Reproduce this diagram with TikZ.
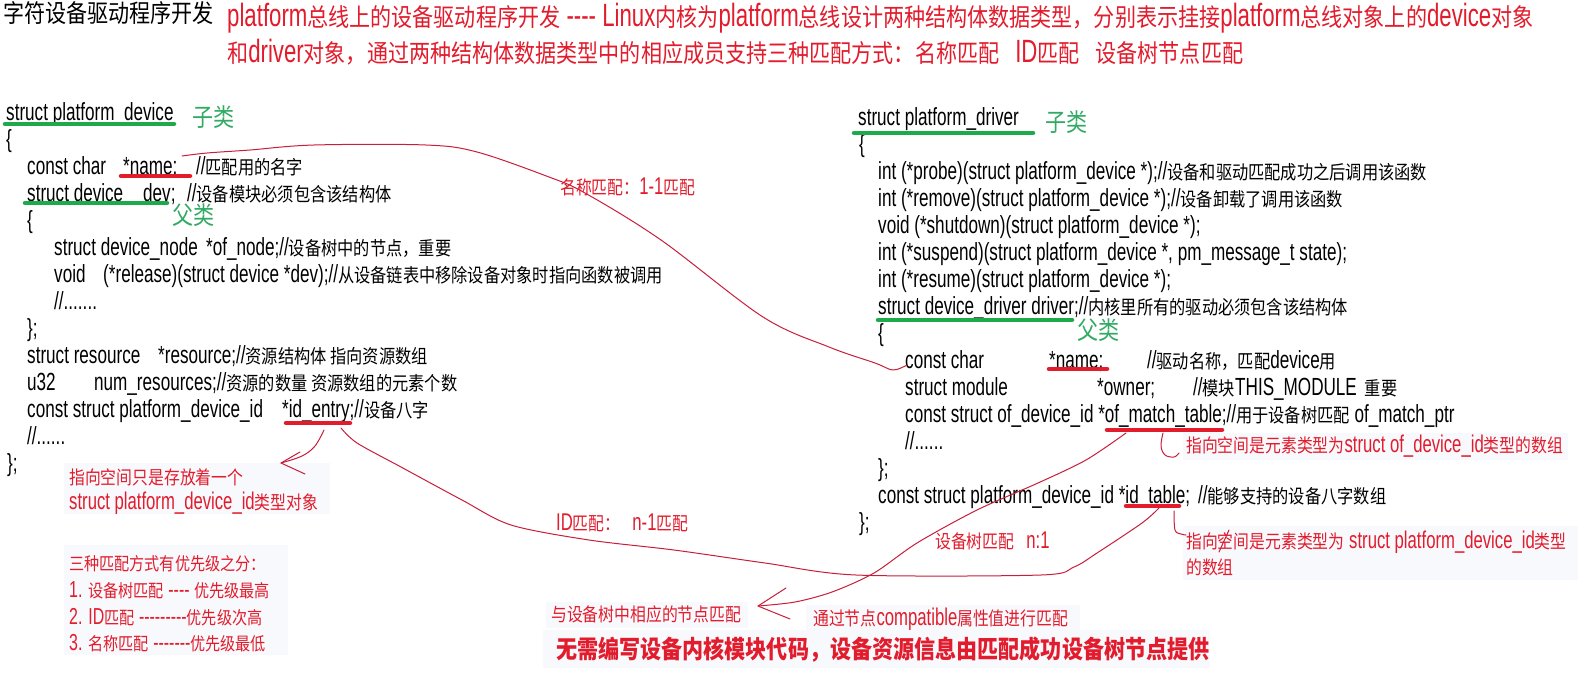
\documentclass[tikz,border=0pt]{standalone}
\usepackage{fontspec}
\newfontfamily\latf{Liberation Sans}[FakeStretch=0.69]
\newfontfamily\cjkf{Noto Sans CJK SC}[Scale=0.77,FakeStretch=0.85]
\newcommand\zz[1]{{\cjkf #1}}
\definecolor{myred}{RGB}{226,28,44}
\definecolor{curvered}{RGB}{200,30,60}
\definecolor{ulgreen}{RGB}{30,170,75}
\definecolor{txtgreen}{RGB}{50,170,100}
\definecolor{faint}{RGB}{248,249,252}
\begin{document}
\begin{tikzpicture}[x=1pt,y=-1pt,
  code/.style={anchor=base west, inner sep=0pt, font=\latf\fontsize{24.8}{28}\selectfont, text=black},
  head/.style={anchor=base west, inner sep=0pt, font=\latf\fontsize{32.2}{36}\selectfont},
  ann/.style={anchor=base west, inner sep=0pt, font=\latf\fontsize{24.2}{28}\selectfont, text=myred},
  prio/.style={anchor=base west, inner sep=0pt, font=\latf\fontsize{23.1}{27}\selectfont, text=myred},
  glab/.style={anchor=base west, inner sep=0pt, font=\cjkf\fontsize{32.2}{36}\selectfont, text=txtgreen},
  gul/.style={draw=ulgreen, line width=4.5pt, line cap=round},
  rul/.style={draw=myred, line width=4.5pt, line cap=round},
  conn/.style={draw=curvered, line width=1pt, line cap=round, line join=round},
  bg/.style={fill=faint, draw=none}]
\fill[white] (0,0) rectangle (1589,696);
\useasboundingbox (0,0) rectangle (1589,696);

% faint highlight boxes
\path[bg] (64,463) rectangle (330,514);
\path[bg] (64,545) rectangle (288,655);
\path[bg] (1183,433) rectangle (1568,460);
\path[bg] (1183,526) rectangle (1578,580);
\path[bg] (546,602) rectangle (748,628);
\path[bg] (806,605) rectangle (1080,632);
\path[bg] (543,630) rectangle (1210,668);

% header
\node[head, text=black] (title) at (3,22) {\zz{字符设备驱动程序开发}};
\node[head, text=myred] (h1) at (227,27) {platform\zz{总线上的设备驱动程序开发} ---- Linux\zz{内核为}platform\zz{总线设计两种结构体数据类型，分别表示挂接}platform\zz{总线对象上的}device\zz{对象}};
\node[head, text=myred] (h2) at (227,62) {\zz{和}driver\zz{对象，通过两种结构体数据类型中的相应成员支持三种匹配方式：名称匹配}\hspace{16pt}ID\zz{匹配}\hspace{16pt}\zz{设备树节点匹配}};

% left block
\node[code] (a1) at (6,120) {struct platform\_device};
\node[glab] (a1g) at (192,126) {子类};
\node[code] (a2) at (6,147) {\{};
\node[code] (a3) at (27,174) {const char};
\node[code] (a3n) at (123,174) {*name;};
\node[code] (a3c) at (196,174) {//\zz{匹配用的名字}};
\node[code] (a4) at (27,201) {struct device};
\node[code] (a4d) at (143,201) {dev;};
\node[code] (a4c) at (187,201) {//\zz{设备模块必须包含该结构体}};
\node[glab] (a4g) at (172,224) {父类};
\node[code] (a5) at (27,228) {\{};
\node[code] (a6) at (54,255) {struct device\_node};
\node[code] (a6b) at (206,255) {*of\_node;//\zz{设备树中的节点，重要}};
\node[code] (a7) at (54,282) {void};
\node[code] (a7b) at (103,282) {(*release)(struct device *dev);//\zz{从设备链表中移除设备对象时指向函数被调用}};
\node[code] (a8) at (54,309) {//.......};
\node[code] (a9) at (27,336) {\};};
\node[code] (a10) at (27,363) {struct resource};
\node[code] (a10b) at (158,363) {*resource;//\zz{资源结构体 指向资源数组}};
\node[code] (a11) at (27,390) {u32};
\node[code] (a11b) at (94,390) {num\_resources;//\zz{资源的数量 资源数组的元素个数}};
\node[code] (a12) at (27,417) {const struct platform\_device\_id};
\node[code] (a12b) at (282,417) {*id\_entry;//\zz{设备八字}};
\node[code] (a13) at (27,444) {//......};
\node[code] (a14) at (7,471) {\};};

% right block
\node[code] (b1) at (858,125) {struct platform\_driver};
\node[glab] (b1g) at (1045,131) {子类};
\node[code] (b2) at (859,152) {\{};
\node[code] (b3) at (878,179) {int (*probe)(struct platform\_device *);//\zz{设备和驱动匹配成功之后调用该函数}};
\node[code] (b4) at (878,206) {int (*remove)(struct platform\_device *);//\zz{设备卸载了调用该函数}};
\node[code] (b5) at (878,233) {void (*shutdown)(struct platform\_device *);};
\node[code] (b6) at (878,260) {int (*suspend)(struct platform\_device *, pm\_message\_t state);};
\node[code] (b7) at (878,287) {int (*resume)(struct platform\_device *);};
\node[code] (b8) at (878,314) {struct device\_driver driver;//\zz{内核里所有的驱动必须包含该结构体}};
\node[glab] (b8g) at (1077,339) {父类};
\node[code] (b9) at (878,341) {\{};
\node[code] (b10) at (905,368) {const char};
\node[code] (b10n) at (1049,368) {*name;};
\node[code] (b10c) at (1147,368) {//\zz{驱动名称，匹配}device\zz{用}};
\node[code] (b11) at (905,395) {struct module};
\node[code] (b11o) at (1097,395) {*owner;};
\node[code] (b11c) at (1193,395) {//\zz{模块}THIS\_MODULE\hspace{8pt}\zz{重要}};
\node[code] (b12) at (905,422) {const struct of\_device\_id *of\_match\_table;//\zz{用于设备树匹配} of\_match\_ptr};
\node[code] (b13) at (905,449) {//......};
\node[code] (b14) at (878,476) {\};};
\node[code] (b15) at (878,503) {const struct platform\_device\_id *id\_table;\hspace{8pt}//\zz{能够支持的设备八字数组}};
\node[code] (b16) at (859,530) {\};};

% underlines
\draw[gul] (5,124) -- (174,124);
\draw[gul] (25,203) -- (167,203);
\draw[gul] (854,133) -- (1033,133);
\draw[gul] (878,320) -- (1072,320);
\draw[rul] (121,176) -- (190,176);
\draw[rul] (286,423) -- (350,423);
\draw[rul] (1049,369) -- (1107,369);
\draw[rul] (1107,430) -- (1222,430);
\draw[rul] (1126,506) -- (1179,506);

% annotations
\node[ann] (n1) at (69,484) {\zz{指向空间只是存放着一个}};
\node[ann] (n2) at (69,509) {struct platform\_device\_id\zz{类型对象}};
\node[ann] (nameLab) at (560,194) {\zz{名称匹配：}1-1\zz{匹配}};
\node[ann] (idLab) at (556,530) {ID\zz{匹配：}\hspace{12pt}n-1\zz{匹配}};
\node[ann] (treeLab) at (935,548) {\zz{设备树匹配}\hspace{12pt}n:1};
\node[ann] (n6) at (1186,452) {\zz{指向空间是元素类型为}struct of\_device\_id\zz{类型的数组}};
\node[ann] (n7) at (1186,548) {\zz{指向空间是元素类型为} struct platform\_device\_id\zz{类型}};
\node[ann] (n8) at (1186,574) {\zz{的数组}};
\node[prio] (p0) at (69,570) {\zz{三种匹配方式有优先级之分：}};
\node[prio] (p1) at (69,597) {1. \zz{设备树匹配} ---- \zz{优先级最高}};
\node[prio] (p2) at (69,624) {2. ID\zz{匹配} ---------\zz{优先级次高}};
\node[prio] (p3) at (69,650) {3. \zz{名称匹配} -------\zz{优先级最低}};
\node[ann] (m1) at (551,621) {\zz{与设备树中相应的节点匹配}};
\node[ann] (m2) at (813,625) {\zz{通过节点}compatible\zz{属性值进行匹配}};
\node[head, text=myred] (bold) at (556,658) {{\cjkf\bfseries 无需编写设备内核模块代码，设备资源信息由匹配成功设备树节点提供}};

% connector end points
\coordinate (nmS) at (182,156);
\coordinate (nmE) at (907,365);
\coordinate (idS) at (341,428);
\coordinate (idE) at (1159,508);
\coordinate (trS) at (1126,433);
\coordinate (trT) at (758,606);
\coordinate (ieS) at (324,430);
\coordinate (ieT) at (281,463);
\coordinate (sq1) at (1163,433);
\coordinate (sq2) at (1174,511);

% name match curve
\draw[conn] plot[smooth, tension=0.55] coordinates {(nmS) (207,153) (250,150) (314,145) (426,145) (477,152) (549,177) (585,193) (661,240) (763,317) (829,347) (875,363) (893,370) (nmE)};
% ID match curve
\draw[conn] plot[smooth, tension=0.5] coordinates {(idS) (357,443) (401,467) (462,500) (511,525) (589,540) (674,550) (765,563) (856,575) (1041,575) (1074,567) (1097,553) (1142,523) (idE)};
% device tree match curve with open arrow
\draw[conn] plot[smooth, tension=0.5] coordinates {(trS) (1086,460) (1038,483) (977,510) (917,543) (874,573) (832,592) (795,602) (trT)};
\draw[conn] (786,588) -- (trT) -- (790,619);
% id_entry small arrow
\draw[conn] plot[smooth, tension=0.6] coordinates {(ieS) (315,446) (302,456) (ieT)};
\draw[conn] (300,452) -- (ieT) -- (305,474);
% squiggles
\draw[conn] plot[smooth, tension=0.6] coordinates {(sq1) (1161,446) (1165,455) (1174,457) (1179,453)};
\draw[conn] plot[smooth, tension=0.6] coordinates {(sq2) (1175,530) (1181,534) (1186,535)};
\draw[conn] (1219,552) -- (1229,530);
\end{tikzpicture}
\end{document}
